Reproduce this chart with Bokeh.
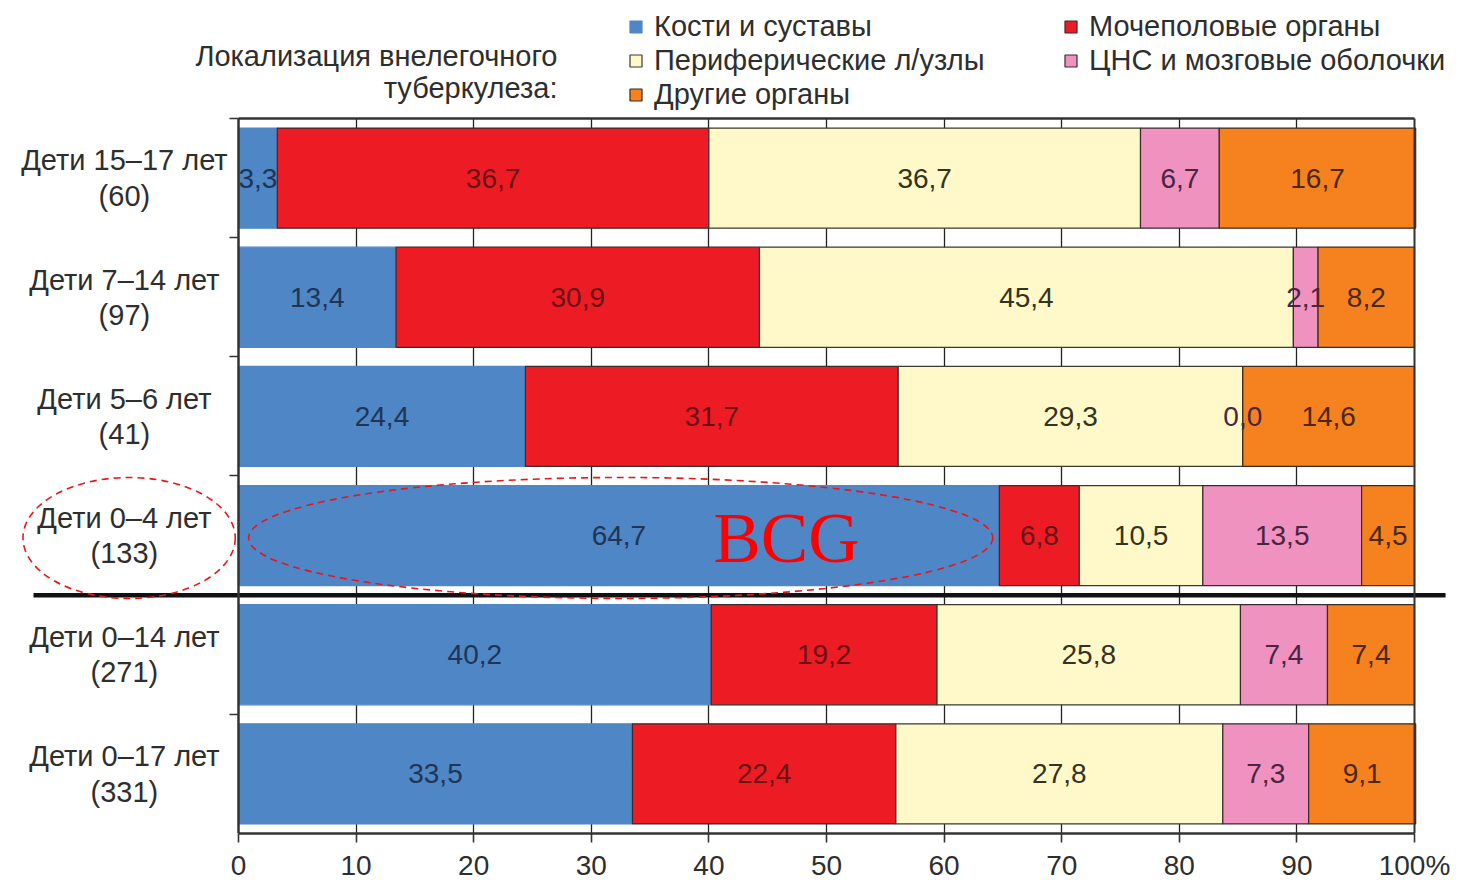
from bokeh.plotting import figure
from bokeh.models import (Range1d, LinearAxis, FixedTicker, Legend, LegendItem,
                          Label, ColumnDataSource, Grid)
from bokeh.embed import file_html
from bokeh.resources import INLINE
from bokeh.core.properties import value

# ---------------- data ----------------
groups = ["Дети 15–17 лет\n(60)", "Дети 7–14 лет\n(97)", "Дети 5–6 лет\n(41)",
          "Дети 0–4 лет\n(133)", "Дети 0–14 лет\n(271)", "Дети 0–17 лет\n(331)"]
series_names = ["Кости и суставы", "Мочеполовые органы", "Периферические л/узлы",
                "ЦНС и мозговые оболочки", "Другие органы"]
bones = [3.3, 13.4, 24.4, 64.7, 40.2, 33.5]
genito = [36.7, 30.9, 31.7, 6.8, 19.2, 22.4]
nodes = [36.7, 45.4, 29.3, 10.5, 25.8, 27.8]
cns = [6.7, 2.1, 0.0, 13.5, 7.4, 7.3]
other = [16.7, 8.2, 14.6, 4.5, 7.4, 9.1]
x_ticks = [0, 10, 20, 30, 40, 50, 60, 70, 80, 90, 100]
x_tick_labels = ["0", "10", "20", "30", "40", "50", "60", "70", "80", "90", "100%"]
title_lines = ["Локализация внелегочного", "туберкулеза:"]
highlight_group = 3          # "Дети 0–4 лет"
highlight_text = "BCG"
separator_after = 4          # line between age groups and totals

# ---------------- style ----------------
fills = ["#4f86c5", "#ed1c24", "#fff8c8", "#f092c0", "#f5821f"]
lines = ["#4f86c5", "#3a2a2a", "#3a3a30", "#3a2a30", "#3a2a20"]
label_colors = ["#1f3556", "#6a1014", "#33331f", "#4a2540", "#4a2810"]
FONT = "Liberation Sans"
TXT = "#2e2e2e"
N = len(groups)
PX_PER_ROW = 119.17
PX_PER_UNIT = 11.76
TOP_PX = 118
LABEL_X = -9.7
ELLIPSE_X = -9.3

p = figure(frame_width=1431, frame_height=833,
           min_border_left=15, min_border_right=7, min_border_top=0, min_border_bottom=40,
           x_range=Range1d(-18.96, 102.72), y_range=Range1d(N, -TOP_PX / PX_PER_ROW),
           output_backend="svg", toolbar_location=None, x_axis_type=None, y_axis_type=None)
p.outline_line_color = None
p.background_fill_color = "white"

# vertical grid lines behind bars
grid = Grid(dimension=0, ticker=FixedTicker(ticks=x_ticks[1:-1]), cross_bounds=(0, N),
            grid_line_color="#222222", grid_line_width=1.3)
p.add_layout(grid, "center")

series = [bones, genito, nodes, cns, other]
ys = [i + 0.5 for i in range(N)]
left = [0.0] * N
renderers = []
sources = []
for k, vals in enumerate(series):
    right = [l + v for l, v in zip(left, vals)]
    src = ColumnDataSource(dict(
        y=ys, left=left, right=right,
        xc=[(l + r) / 2 for l, r in zip(left, right)],
        lbl=[f"{v:.1f}".replace(".", ",") for v in vals]))
    r = p.hbar(y="y", left="left", right="right", height=0.84, source=src,
               fill_color=fills[k], line_color=lines[k], line_width=1.2)
    renderers.append(r)
    sources.append(src)
    left = right

for k, src in enumerate(sources):
    p.text(x="xc", y="y", text="lbl", source=src, text_align="center",
           text_baseline="middle", text_font=value(FONT), text_font_size="28px",
           text_color=label_colors[k])

# bottom axis
xax = LinearAxis(ticker=FixedTicker(ticks=x_ticks), bounds=(0, 100),
                 major_label_overrides={t: s for t, s in zip(x_ticks, x_tick_labels)},
                 major_tick_out=9, major_tick_in=0, minor_tick_out=0, minor_tick_in=0,
                 axis_line_width=2.5, axis_line_color="#333333",
                 major_tick_line_width=1.6, major_tick_line_color="#333333",
                 major_label_text_font=FONT, major_label_text_font_size="28px",
                 major_label_text_color=TXT, major_label_standoff=7)
p.add_layout(xax, "below")

# top border
top_ax = LinearAxis(fixed_location=0, ticker=FixedTicker(ticks=[]), bounds=(0, 100),
                    axis_line_width=2.5, axis_line_color="#333333")
p.add_layout(top_ax, "above")

# right border
right_ax = LinearAxis(fixed_location=100, ticker=FixedTicker(ticks=[]), bounds=(0, N),
                      axis_line_width=2, axis_line_color="#333333")
p.add_layout(right_ax, "right")

# left axis line
yax = LinearAxis(fixed_location=0, ticker=FixedTicker(ticks=[]), bounds=(0, N),
                 axis_line_width=2.5, axis_line_color="#333333")
p.add_layout(yax, "left")

# short outward tick marks at the row boundaries
ytick_marks = Grid(dimension=1, ticker=FixedTicker(ticks=list(range(N + 1))),
                   bounds=(-0.001, N + 0.001), cross_bounds=(-9 / PX_PER_UNIT, 0),
                   grid_line_color="#333333", grid_line_width=1.6)
p.add_layout(ytick_marks, "center")

# category labels (two lines, centred)
p.text(x=[LABEL_X] * N, y=ys, text=groups, text_align="center", text_baseline="middle",
       text_font=value(FONT), text_font_size="29px", text_color=TXT, text_line_height=1.1)

# separator line
p.segment(x0=[-17.43], x1=[102.64], y0=[separator_after], y1=[separator_after],
          line_color="#111111", line_width=4.5)

# highlight ellipses and text
hy = highlight_group + 0.52
p.ellipse(x=[ELLIPSE_X, bones[highlight_group] / 2 + 0.15], y=[hy, hy],
          width=[18.05, bones[highlight_group] * 0.978], height=[1.015, 1.015],
          fill_alpha=0, line_color="#e8161b", line_width=1.6, line_dash="7 5")
p.text(x=[46.6], y=[hy], text=[highlight_text], text_align="center", text_baseline="middle",
       text_font=value("Liberation Serif"), text_font_size="71px", text_color="#ff0000")

# title text
p.add_layout(Label(x=542, y=778, x_units="screen", y_units="screen", text=title_lines[0],
                   text_align="right", text_baseline="middle", text_font=FONT,
                   text_font_size="29px", text_color=TXT))
p.add_layout(Label(x=542, y=746, x_units="screen", y_units="screen", text=title_lines[1],
                   text_align="right", text_baseline="middle", text_font=FONT,
                   text_font_size="29px", text_color=TXT))

# legends
def make_legend(idx, loc):
    return Legend(items=[LegendItem(label=series_names[i], renderers=[renderers[i]]) for i in idx],
                  location=loc, orientation="vertical", glyph_width=15, glyph_height=15,
                  label_standoff=11, spacing=0, padding=0, margin=0,
                  border_line_alpha=0, background_fill_alpha=0,
                  label_text_font=FONT, label_text_font_size="29px",
                  label_height=34, label_text_color=TXT)

p.add_layout(make_legend([0, 2, 4], (613, 722)))
p.add_layout(make_legend([1, 3], (1048, 756)))

open("out.html", "w").write(file_html(p, INLINE))
